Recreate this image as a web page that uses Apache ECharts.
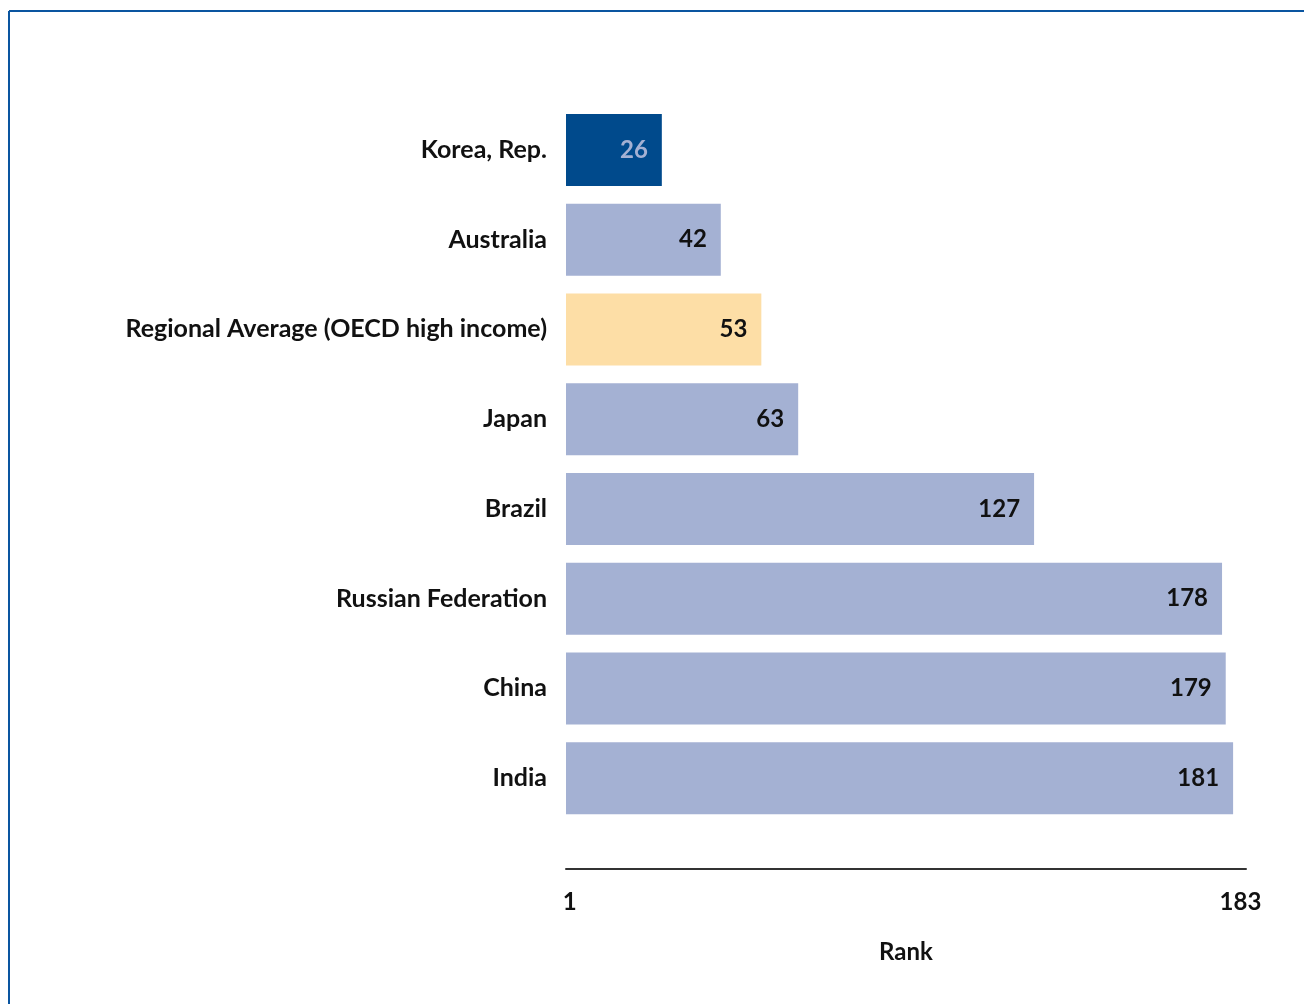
<!DOCTYPE html>
<html>
<head>
<meta charset="utf-8">
<script src="https://cdn.jsdelivr.net/npm/echarts@6/dist/echarts.min.js"></script>
<style>
html,body{margin:0;padding:0;background:#fff;}
#chart{width:1304px;height:1004px;}
</style>
</head>
<body>
<div id="chart"></div>
<script>
const categories = ["Korea, Rep.", "Australia", "Regional Average (OECD high income)", "Japan", "Brazil", "Russian Federation", "China", "India"];
const ranks = [26, 42, 53, 63, 127, 178, 179, 181];
const tickLabels = [1, 183];
const axisName = "Rank";

const FONT = "Lato, 'Open Sans', sans-serif";
const barColor = function (name) {
  if (name === "Korea, Rep.") return "#004A8C";
  if (name.indexOf("Regional Average") === 0) return "#FDDEA6";
  return "#A4B1D3";
};
const labelColor = function (name) {
  return name === "Korea, Rep." ? "#A4B1D3" : "#111111";
};

const chart = echarts.init(document.getElementById('chart'), null, {renderer: 'canvas'});
chart.setOption({
  backgroundColor: '#ffffff',
  animation: false,
  graphic: [
    {type: 'line', shape: {x1: 9, y1: 11, x2: 1304, y2: 11}, style: {stroke: '#0A55A0', lineWidth: 2}},
    {type: 'line', shape: {x1: 9, y1: 11, x2: 9, y2: 1004}, style: {stroke: '#0A55A0', lineWidth: 2}}
  ],
  grid: {left: 566, top: 105, width: 680, height: 718, containLabel: false},
  xAxis: {
    type: 'value', min: 0, max: 184.5, position: 'bottom', offset: 46,
    axisLine: {show: true, lineStyle: {color: '#333333', width: 2}},
    axisTick: {show: false},
    splitLine: {show: false},
    axisLabel: {
      customValues: tickLabels, showMinLabel: true, showMaxLabel: true,
      margin: 21, color: '#111111', fontFamily: FONT, fontWeight: 'bold', fontSize: 24
    },
    name: axisName, nameLocation: 'middle', nameGap: 71,
    nameTextStyle: {color: '#111111', fontFamily: FONT, fontWeight: 'bold', fontSize: 24}
  },
  yAxis: {
    type: 'category', data: categories, inverse: true,
    axisLine: {show: false}, axisTick: {show: false}, splitLine: {show: false},
    axisLabel: {margin: 19, padding: [5, 0, 0, 0], color: '#111111', fontFamily: FONT, fontWeight: 'bold', fontSize: 25}
  },
  series: [{
    type: 'bar', barWidth: 72,
    data: ranks.map(function (v, i) {
      return {
        value: v,
        itemStyle: {color: barColor(categories[i])},
        label: {color: labelColor(categories[i])}
      };
    }),
    label: {
      show: true, position: 'insideRight', distance: 14, padding: [3, 0, 0, 0],
      fontFamily: FONT, fontWeight: 'bold', fontSize: 24
    }
  }]
});
</script>
</body>
</html>
